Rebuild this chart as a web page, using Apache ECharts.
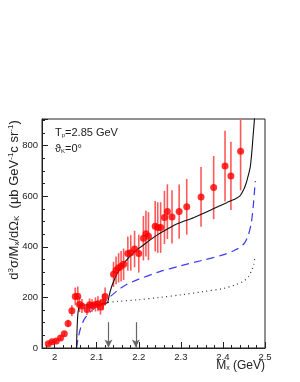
<!DOCTYPE html>
<html>
<head>
<meta charset="utf-8">
<script src="https://cdn.jsdelivr.net/npm/echarts@6/dist/echarts.min.js"></script>
<style>html,body{margin:0;padding:0;background:#fff;}#c{width:300px;height:382px;}</style>
</head>
<body>
<div id="c"></div>
<script>
// Data points: M_x (GeV), cross section, error
var dataX = [1.985,1.994,2.004,2.014,2.023,2.032,2.041,2.049,2.055,2.059,2.065,2.077,2.083,2.089,2.097,2.103,2.109,2.115,2.120,2.140,2.146,2.152,2.158,2.164,2.174,2.181,2.190,2.200,2.211,2.217,2.223,2.239,2.245,2.252,2.261,2.268,2.279,2.296,2.314,2.348,2.378,2.405,2.419,2.442];
var dataY = [17,25,28,40,56,97,147,204,205,172,166,152,171,168,172,175,162,181,204,291,307,317,323,331,373,376,391,373,434,452,442,481,476,476,516,539,518,539,558,597,634,719,680,778];
var dataErr = [6,7,8,9,10,15,22,35,38,30,28,22,25,25,28,30,30,32,35,50,55,58,60,62,68,70,72,75,88,90,95,100,100,100,105,108,105,107,110,118,125,140,135,155];

// Total (black solid)
var totalX = [2.052,2.053,2.055,2.058,2.062,2.080,2.100,2.120,2.126,2.130,2.135,2.140,2.148,2.160,2.176,2.190,2.207,2.225,2.247,2.270,2.290,2.330,2.365,2.390,2.410,2.430,2.440,2.450,2.455,2.460,2.465,2.469,2.472,2.475,2.478];
var totalY = [0,60,130,162,168,170,172,176,180,210,240,262,292,325,357,380,402,425,450,472,490,515,540,560,575,590,600,628,650,680,716,780,845,905,980];

// Blue dashed
var dashX = [2.052,2.056,2.062,2.070,2.080,2.090,2.100,2.110,2.120,2.130,2.150,2.170,2.200,2.250,2.300,2.350,2.400,2.430,2.450,2.460,2.467,2.472,2.475,2.477];
var dashY = [0,40,80,112,135,150,163,173,185,200,228,250,272,302,325,346,368,388,412,445,490,560,620,660];

// Black dotted
var dotX = [2.127,2.150,2.200,2.250,2.300,2.350,2.400,2.430,2.450,2.460,2.468,2.473,2.476];
var dotY = [180,184,191,200,210,222,235,250,265,280,305,330,357];

// Threshold arrows
var arrowX = [2.128, 2.193];
var arrowTop = 102;

// Axis ranges
var xMin = 1.97, xMax = 2.5;
var yMin = 0, yMax = 905, yStep = 200;

function zip(a, b) { return a.map(function (v, i) { return [v, b[i]]; }); }

var chart = echarts.init(document.getElementById('c'), null, {renderer: 'canvas'});
var FONT = '"Liberation Sans", Arial, sans-serif';

var option = {
  animation: false,
  grid: {left: 42, top: 119, right: 35, bottom: 34, show: true, borderColor: '#222', borderWidth: 1, backgroundColor: 'transparent'},
  xAxis: {
    type: 'value', min: xMin, max: xMax, splitNumber: 5,
    axisLine: {show: true, onZero: false, lineStyle: {color: '#222'}},
    axisTick: {show: true, inside: true, length: 6, lineStyle: {color: '#222'}},
    minorTick: {show: true, splitNumber: 5, length: 3, lineStyle: {color: '#222'}},
    splitLine: {show: false},
    axisLabel: {color: '#222', fontFamily: FONT, fontSize: 9.5, margin: 4,
      formatter: function (v) {
        var r = Math.round(v * 10);
        if (Math.abs(v * 10 - r) > 1e-6) return '';
        return (r / 10).toString();
      }}
  },
  yAxis: {
    type: 'value', min: yMin, max: yMax, interval: yStep,
    axisLine: {show: true, onZero: false, lineStyle: {color: '#222'}},
    axisTick: {show: true, inside: true, length: 6, lineStyle: {color: '#222'}},
    minorTick: {show: true, splitNumber: 4, length: 3, lineStyle: {color: '#222'}},
    splitLine: {show: false},
    axisLabel: {showMaxLabel: false, color: '#222', fontFamily: FONT, fontSize: 9.5, margin: 4}
  },
  series: [
    {
      type: 'line', data: zip(dotX, dotY), showSymbol: false, symbol: 'none', smooth: 0.3,
      lineStyle: {color: '#333', width: 1.2, type: [1, 3.5]}, z: 2, clip: true
    },
    {
      type: 'line', data: zip(dashX, dashY), showSymbol: false, symbol: 'none', smooth: 0.3,
      lineStyle: {color: '#3b3bf0', width: 1.2, type: [8, 5]}, z: 2, clip: true
    },
    {
      type: 'custom', clip: true, z: 3,
      data: dataX.map(function (x, i) { return [x, dataY[i], dataErr[i]]; }),
      renderItem: function (params, api) {
        var x = api.value(0), y = api.value(1), e = api.value(2);
        var p1 = api.coord([x, y - e]), p2 = api.coord([x, y + e]);
        return {type: 'line', shape: {x1: p1[0], y1: p1[1], x2: p2[0], y2: p2[1]},
          style: {stroke: '#ff5a5a', lineWidth: 1.6}};
      }
    },
    {
      type: 'line', data: zip(totalX, totalY), showSymbol: false, symbol: 'none', smooth: 0.2,
      lineStyle: {color: '#111', width: 1.1}, z: 4, clip: true,
      markLine: {
        silent: true, symbol: ['none', 'arrow'], symbolSize: [6, 8],
        label: {show: false},
        lineStyle: {color: '#666', width: 1.2, type: 'solid'},
        data: arrowX.map(function (x) { return [{coord: [x, arrowTop]}, {coord: [x, 2]}]; })
      }
    },
    {
      type: 'scatter', data: zip(dataX, dataY), symbol: 'circle', symbolSize: 7,
      itemStyle: {color: '#ff0000'}, z: 5, clip: true
    }
  ],
  graphic: [
    {
      type: 'text', left: 55, top: 127,
      style: {
        text: 'T{sub|p}=2.85 GeV',
        font: '11px ' + FONT, fill: '#222',
        rich: {sub: {fontSize: 6, fontFamily: FONT, verticalAlign: 'bottom', padding: [6, 0, 0, 0]}}
      }
    },
    {
      type: 'text', left: 55, top: 143,
      style: {
        text: 'ϑ{sub|K}=0°',
        font: '11px ' + FONT, fill: '#222',
        rich: {sub: {fontSize: 6, fontFamily: FONT, verticalAlign: 'bottom', padding: [6, 0, 0, 0]}}
      }
    },
    {
      type: 'text', x: 14, y: 200, rotation: Math.PI / 2,
      style: {
        text: 'd{sup|3}σ/M{sub|x}/dΩ{sub|K}  (μb GeV{sup|-1}c sr{sup|-1})',
        font: '13px ' + FONT, fill: '#222', align: 'center', verticalAlign: 'middle',
        rich: {
          sup: {fontSize: 8, fontFamily: FONT, verticalAlign: 'top', padding: [0, 0, 6, 0]},
          sub: {fontSize: 8, fontFamily: FONT, verticalAlign: 'bottom', padding: [6, 0, 0, 0]}
        }
      }
    },
    {
      type: 'text', x: 265, y: 366,
      style: {
        text: 'M{sub|x} (GeV)',
        font: '12px ' + FONT, fill: '#222', align: 'right', verticalAlign: 'middle',
        rich: {sub: {fontSize: 7, fontFamily: FONT, verticalAlign: 'bottom', padding: [5, 0, 0, 0]}}
      }
    }
  ]
};
chart.setOption(option);
</script>
</body>
</html>
